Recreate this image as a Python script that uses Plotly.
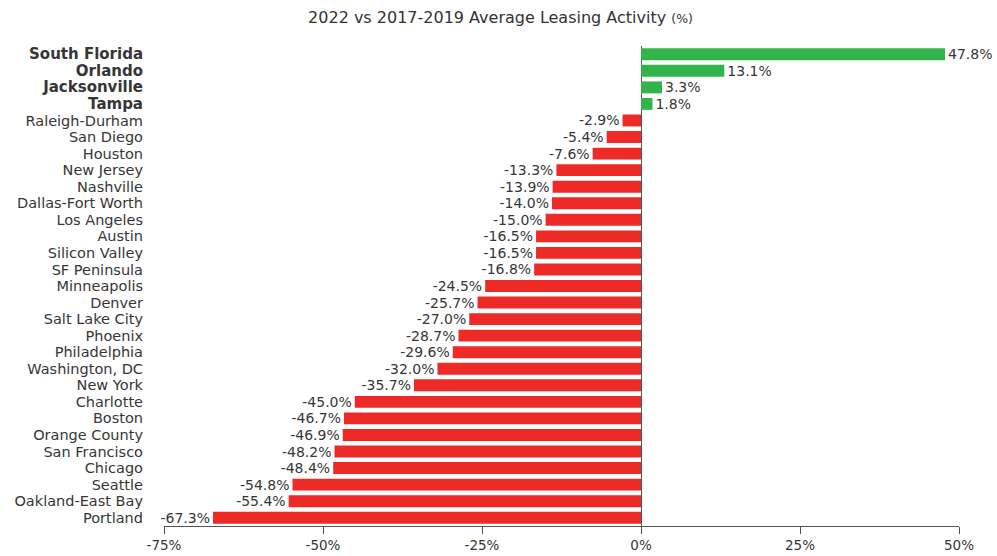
import plotly.graph_objects as go

markets = ["South Florida", "Orlando", "Jacksonville", "Tampa", "Raleigh-Durham", "San Diego",
           "Houston", "New Jersey", "Nashville", "Dallas-Fort Worth", "Los Angeles", "Austin",
           "Silicon Valley", "SF Peninsula", "Minneapolis", "Denver", "Salt Lake City", "Phoenix",
           "Philadelphia", "Washington, DC", "New York", "Charlotte", "Boston", "Orange County",
           "San Francisco", "Chicago", "Seattle", "Oakland-East Bay", "Portland"]
values = [47.8, 13.1, 3.3, 1.8, -2.9, -5.4, -7.6, -13.3, -13.9, -14.0, -15.0, -16.5,
          -16.5, -16.8, -24.5, -25.7, -27.0, -28.7, -29.6, -32.0, -35.7, -45.0, -46.7, -46.9,
          -48.2, -48.4, -54.8, -55.4, -67.3]
highlight = ["South Florida", "Orlando", "Jacksonville", "Tampa"]
x_ticks = [-75, -50, -25, 0, 25, 50]
x_tick_labels = ["-75%", "-50%", "-25%", "0%", "25%", "50%"]
title_main = "2022 vs 2017-2019 Average Leasing Activity"
title_unit = "(%)"

GREEN = "#33b44a"
RED = "#ee2a27"
TXT = "#363636"
FONT = "DejaVu Sans"

colors = [GREEN if v >= 0 else RED for v in values]
ticktext = [
    f'<span style="font-size:15px"><b>{m}</b></span>' if m in highlight else m
    for m in markets
]

fig = go.Figure(go.Bar(
    x=values, y=markets, orientation="h",
    marker=dict(color=colors, line=dict(width=0)),
    text=[f"{v:.1f}%" for v in values],
    textposition="outside",
    constraintext="none",
    textfont=dict(size=14, color=TXT, family=FONT),
    cliponaxis=False,
    hoverinfo="skip",
))

fig.update_layout(
    width=997, height=556,
    margin=dict(l=164, r=38, t=46, b=30),
    paper_bgcolor="white", plot_bgcolor="white",
    bargap=0.28,
    showlegend=False,
    font=dict(family=FONT, color=TXT, size=13),
    title=dict(text=f'{title_main} <span style="font-size:12.5px">{title_unit}</span>',
               x=0.502, xanchor="center", y=0.968, yanchor="middle",
               font=dict(size=16, color="#333333", family=FONT)),
)
fig.update_xaxes(
    range=[-75, 50], tickvals=x_ticks, ticktext=x_tick_labels,
    showgrid=False, zeroline=True, zerolinecolor="#555555", zerolinewidth=1,
    showline=True, linecolor="#555555", linewidth=1,
    ticks="outside", ticklen=7, tickcolor="#555555",
    tickfont=dict(size=13.5, color=TXT),
    automargin=False,
)
fig.update_yaxes(
    categoryorder="array", categoryarray=markets[::-1],
    tickvals=markets, ticktext=ticktext,
    showgrid=False, showline=False, ticks="",
    tickfont=dict(size=14.5, color=TXT),
    ticklabelstandoff=20,
    automargin=False,
)

fig.write_html("out.html", config={"displayModeBar": False},
               post_script="document.body.style.margin='0';")
